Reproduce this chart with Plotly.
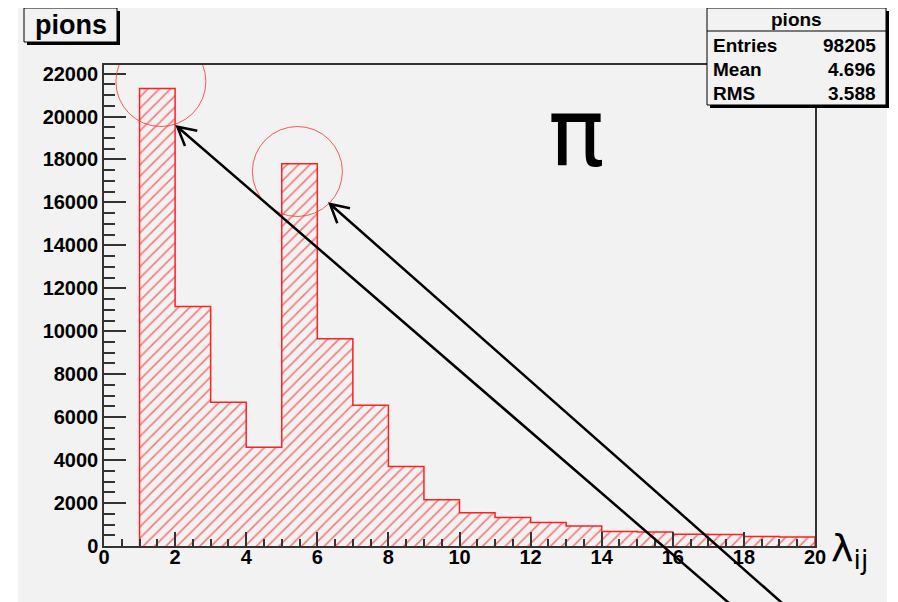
import plotly.graph_objects as go

# ---- data ----
bin_left = list(range(1, 20))
counts = [21300, 11150, 6700, 4600, 17800, 9650, 6550, 3700, 2150,
          1550, 1330, 1090, 930, 670, 650, 550, 540, 440, 420]
x_ticks = list(range(0, 21, 2))
stats_labels = ["Entries", "Mean", "RMS"]
stats_values = ["98205", "4.696", "3.588"]
hist_name = "pions"

# page body has an 8px margin: figure coords = screen coords - 8
OFF = 8
W, H = 898 - OFF, 602 - OFF
SL, SR, ST, SB = 104, 815, 65, 546          # plot frame in screen px
L, T = SL - OFF, ST - OFF
R, B = W - (SR - OFF), H - (SB - OFF)
PW, PH = SR - SL, SB - ST


def px(x):
    return (x - SL) / PW


def py(y):
    return (SB - y) / PH


centers = [b + 0.5 for b in bin_left]

fig = go.Figure()
fig.add_trace(go.Bar(
    x=centers, y=counts, width=1.0,
    marker=dict(color="rgba(0,0,0,0)", line=dict(width=0),
                pattern=dict(shape="/", fgcolor="#ff0000", bgcolor="rgba(0,0,0,0)",
                             size=8, solidity=0.2)),
    showlegend=False, hoverinfo="skip"))

# step outline
sx = [bin_left[0]] + bin_left + [bin_left[-1] + 1, bin_left[-1] + 1]
sy = [0] + counts + [counts[-1], 0]
fig.add_trace(go.Scatter(x=sx, y=sy, mode="lines", line=dict(color="#ff2020", width=1.5, shape="hv"),
                         showlegend=False, hoverinfo="skip"))

shapes = []
# grey canvas
shapes.append(dict(type="rect", xref="paper", yref="paper", x0=px(18), x1=px(887), y0=py(610), y1=py(7),
                   fillcolor="#f2f2f2", line=dict(width=0), layer="below"))

# red circles (data-anchored, pixel-sized)
for cx, cy in [(1.6, 21630), (5.44, 17440)]:
    shapes.append(dict(type="circle", xref="x", yref="y", xsizemode="pixel", ysizemode="pixel",
                       xanchor=cx, yanchor=cy, x0=-45, x1=45, y0=-45, y1=45,
                       line=dict(color="rgba(255,60,60,0.85)", width=1)))

# arrows (screen-pixel geometry converted to paper)
arrows = [((737, 610), (177.3, 126.7), (197.3, 130.7), (185, 146)),
          ((790, 610), (330, 204), (350, 208.3), (337.3, 223.3))]
for tail, tip, h1, h2 in arrows:
    path = (f"M {px(tail[0])},{py(tail[1])} L {px(tip[0])},{py(tip[1])} "
            f"M {px(h1[0])},{py(h1[1])} L {px(tip[0])},{py(tip[1])} L {px(h2[0])},{py(h2[1])}")
    shapes.append(dict(type="path", xref="paper", yref="paper", path=path,
                       line=dict(color="black", width=2.5), layer="above"))

# title box
shapes.append(dict(type="rect", xref="paper", yref="paper", x0=px(27), x1=px(120), y0=py(45), y1=py(11),
                   fillcolor="black", line=dict(width=0), layer="above"))
shapes.append(dict(type="rect", xref="paper", yref="paper", x0=px(24), x1=px(117), y0=py(42), y1=py(8),
                   fillcolor="#f2f2f2", line=dict(color="black", width=1), layer="above"))

# stats box
shapes.append(dict(type="rect", xref="paper", yref="paper", x0=px(710), x1=px(889), y0=py(108), y1=py(11),
                   fillcolor="black", line=dict(width=0), layer="above"))
shapes.append(dict(type="rect", xref="paper", yref="paper", x0=px(707), x1=px(886), y0=py(105), y1=py(8),
                   fillcolor="#f2f2f2", line=dict(color="black", width=1), layer="above"))
shapes.append(dict(type="line", xref="paper", yref="paper", x0=px(707), x1=px(886), y0=py(31), y1=py(31),
                   line=dict(color="black", width=1), layer="above"))

ann = []
bold = dict(family="Liberation Sans, Arial, sans-serif", color="black", weight="bold")
ann.append(dict(xref="paper", yref="paper", x=px(70.5), y=py(25.5), text=hist_name, showarrow=False,
                xanchor="center", yanchor="middle", font=dict(size=27, **bold)))
ann.append(dict(xref="paper", yref="paper", x=px(796.5), y=py(19), text=hist_name, showarrow=False,
                xanchor="center", yanchor="middle", font=dict(size=19, **bold)))
for i, (lab, val) in enumerate(zip(stats_labels, stats_values)):
    yy = py(45 + i * 24.5)
    ann.append(dict(xref="paper", yref="paper", x=px(711), y=yy, text=lab, showarrow=False,
                    xanchor="left", yanchor="middle", font=dict(size=19, **bold)))
    ann.append(dict(xref="paper", yref="paper", x=px(878), y=yy, text=val, showarrow=False,
                    xanchor="right", yanchor="middle", font=dict(size=19, **bold)))

ann.append(dict(xref="paper", yref="paper", x=px(576), y=py(134), text="π", showarrow=False,
                xanchor="center", yanchor="middle",
                font=dict(size=94, family="DejaVu Sans, sans-serif", color="black")))
ann.append(dict(xref="paper", yref="paper", x=px(829), y=py(550), text="λ<sub>ij</sub>", showarrow=False,
                xanchor="left", yanchor="middle",
                font=dict(size=38, family="DejaVu Sans, sans-serif", color="black")))

axis_common = dict(showline=True, linecolor="#333333", linewidth=1.5, mirror=True,
                   showgrid=False, zeroline=False, ticks="inside", tickcolor="#333333",
                   tickwidth=1.5, tickfont=dict(size=20, **bold))

fig.update_layout(
    width=W, height=H,
    margin=dict(l=L, r=R, t=T, b=B),
    paper_bgcolor="white", plot_bgcolor="rgba(0,0,0,0)",
    bargap=0, shapes=shapes, annotations=ann,
    xaxis=dict(range=[0, 20], tickmode="array", tickvals=x_ticks, ticklen=14,
               ticklabelstandoff=-8,
               minor=dict(dtick=0.5, ticks="inside", ticklen=7, tickcolor="#333333", tickwidth=1.5),
               **axis_common),
    yaxis=dict(range=[0, 22400], dtick=2000, tick0=0, tickformat="d", ticklen=22,
               minor=dict(dtick=500, ticks="inside", ticklen=11, tickcolor="#333333", tickwidth=1.5),
               **axis_common),
)

fig.write_html("out.html")
